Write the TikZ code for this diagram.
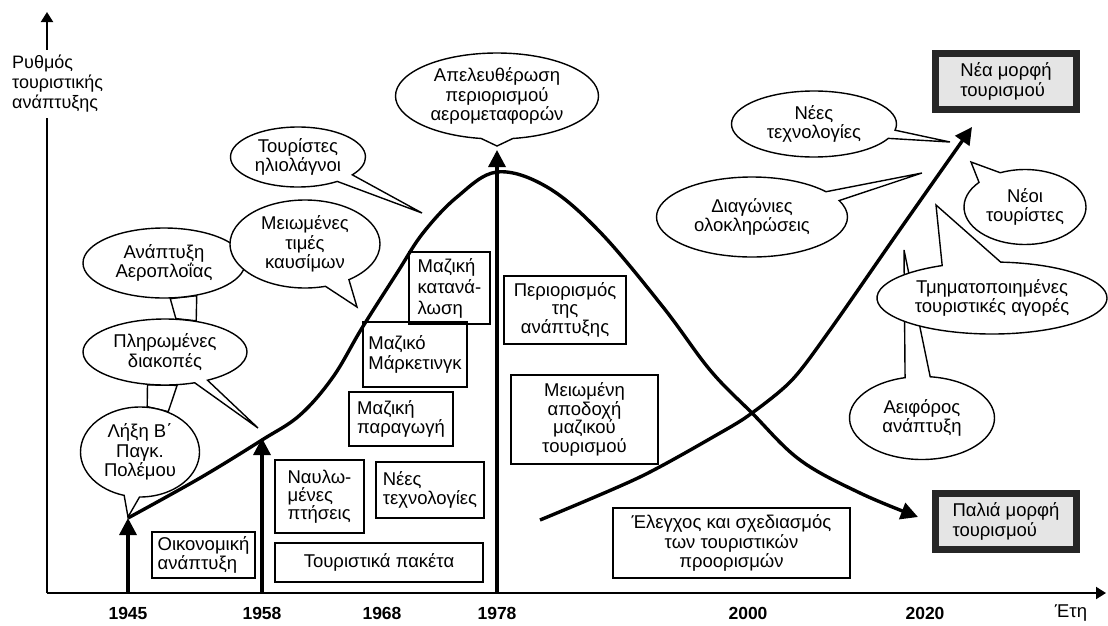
\documentclass[tikz,border=0pt]{standalone}
\usepackage{fontspec}
\setmainfont{Liberation Sans}
\usepackage{tikz}
\usetikzlibrary{
  arrows.meta,
  shapes.geometric,
  shapes.callouts,
  positioning}
\pgfdeclarelayer{back}
\pgfsetlayers{back,main}

\begin{document}
\begin{tikzpicture}[>={Triangle[length=17pt,width=17pt]},x=1pt,y=-1pt,
    every node/.style={font=\fontsize{18.5}{19.5}\selectfont},
    axe/.style={line width=2pt,-{Triangle[length=10pt,width=12pt]}},
    courbe/.style={line width=3.4pt,->},
    cadre/.style={rectangle,draw,line width=1.5pt,inner sep=0pt},
    gros/.style={rectangle,draw=black!85,fill=black!10,line width=7pt,inner sep=0pt,align=left,minimum width=141pt,minimum height=56pt},
    bulle/.style={ellipse callout,draw,fill=white,line width=1.4pt,align=center,inner sep=0pt},
    rond/.style={ellipse,draw,fill=white,line width=1.4pt,align=center,inner sep=0pt},
    an/.style={font=\fontsize{17.5}{19}\selectfont\bfseries}]
        \useasboundingbox (0,0) rectangle (1108,625);
        % Boxes
        \node(eco) at (203.5,555)[cadre,align=left,minimum width=103pt,minimum height=46pt] {Οικονομική\\ανάπτυξη};
        \node(pack) at (379,562.5)[cadre,minimum width=208pt,minimum height=39pt] {Τουριστικά πακέτα};
        \node(charter) at (319.5,496.5)[cadre,align=left,minimum width=89pt,minimum height=73pt,font=\fontsize{18.5}{18}\selectfont] {Ναυλω-\\μένες\\πτήσεις};
        \node(tech) at (430,490)[cadre,align=left,minimum width=108pt,minimum height=56pt] {Νέες\\τεχνολογίες};
        \node(prod) at (401,419)[cadre,align=left,minimum width=104pt,minimum height=54pt] {Μαζική\\παραγωγή};
        \node(mkt) at (415,354.5)[cadre,align=left,minimum width=104pt,minimum height=65pt] {Μαζικό\\Μάρκετινγκ};
        \node(cons) at (449.5,288)[cadre,align=left,minimum width=81pt,minimum height=72pt,font=\fontsize{18.5}{21}\selectfont] {Μαζική\\κατανά-\\λωση};
        \node(limit) at (565,310)[cadre,align=center,minimum width=122pt,minimum height=68pt,font=\fontsize{18.5}{17.5}\selectfont] {Περιορισμός\\της\\ανάπτυξης};
        \node(accept) at (584.5,419.5)[cadre,align=center,minimum width=147pt,minimum height=89pt,font=\fontsize{18.5}{18.7}\selectfont] {Μειωμένη\\αποδοχή\\μαζικού\\τουρισμού};
        \node(plan) at (731.5,543)[cadre,align=center,minimum width=237pt,minimum height=70pt] {Έλεγχος και σχεδιασμός\\των τουριστικών\\προορισμών};
        \node(newform) at (1006,81.5)[gros] {Νέα μορφή\\τουρισμού};
        \node(oldform) at (1006,521.5)[gros] {Παλιά μορφή\\τουρισμού};
        % Bubbles
        \node(aero) at (164,263)[rond,minimum width=162pt,minimum height=70pt] {Ανάπτυξη\\Αεροπλοΐας};
        \node(fuel) at (305,244)[bulle,minimum width=150pt,minimum height=88pt,callout absolute pointer={(357,307)},callout pointer arc=20] {Μειωμένες\\τιμές\\καυσίμων};
        \node(sun) at (298,157)[bulle,minimum width=135pt,minimum height=60pt,callout absolute pointer={(422,213)},callout pointer arc=18] {Τουρίστες\\ηλιολάγνοι};
        \node(libre) at (497,96)[bulle,minimum width=203pt,minimum height=86pt,callout absolute pointer={(497,146)},callout pointer arc=18] {Απελευθέρωση\\περιορισμού\\αερομεταφορών};
        \node(pay) at (165,352)[bulle,minimum width=164pt,minimum height=66pt,callout absolute pointer={(258,428)},callout pointer arc=10] {Πληρωμένες\\διακοπές};
        \node(war) at (140,452)[bulle,minimum width=119pt,minimum height=90pt,callout absolute pointer={(128,517)},callout pointer arc=15] {Λήξη Β΄\\Παγκ.\\Πολέμου};
        \begin{pgfonlayer}{back}
          \draw[line width=1.4pt,fill=white] (aero.-80) -- (pay.72) -- (pay.45) -- (aero.-45) -- cycle;
          \draw[line width=1.4pt,fill=white] (pay.-118) -- (war.81) -- (war.55) -- (pay.-70) -- cycle;
        \end{pgfonlayer}
        \node(ntech) at (814,124)[bulle,minimum width=165pt,minimum height=66pt,callout absolute pointer={(950,142)},callout pointer arc=15] {Νέες\\τεχνολογίες};
        \node(diag) at (752,217)[bulle,minimum width=191pt,minimum height=80pt,callout absolute pointer={(922,173)},callout pointer arc=15] {Διαγώνιες\\ολοκληρώσεις};
        \node(ntour) at (1025,207)[bulle,minimum width=122pt,minimum height=75pt,callout absolute pointer={(971,162)},callout pointer arc=25] {Νέοι\\τουρίστες};
        \node(sust) at (922,418)[bulle,minimum width=145pt,minimum height=83pt,callout absolute pointer={(904,250)},callout pointer arc=20] {Αειφόρος\\ανάπτυξη};
        \node(segm) at (992,298)[bulle,minimum width=230pt,minimum height=72pt,callout absolute pointer={(936,205)},callout pointer arc=30] {Τμηματοποιημένες\\τουριστικές αγορές};
        % Axes
        \coordinate(O) at (47,593);
        \coordinate(ytop) at (47,12);
        \coordinate(xend) at (1106,593);
        \draw[axe] (O) -- (ytop);
        \draw[axe] (O) -- (xend);
        \node(ylab) at (11,84)[anchor=west,fill=white,align=left,inner sep=1pt,minimum height=68pt,font=\fontsize{18}{20}\selectfont] {Ρυθμός\\τουριστικής\\ανάπτυξης};
        \node(t45) at (128,613)[an] {1945};
        \node(t58) at (262,613)[an] {1958};
        \node(t68) at (382,613)[an] {1968};
        \node(t78) at (497,613)[an] {1978};
        \node(t00) at (748,613)[an] {2000};
        \node(t20) at (925,613)[an] {2020};
        \node(tyr) at (1071,613) {Έτη};
        % Links
        \coordinate(a45) at (128,593);
        \coordinate(c45) at (128,518);
        \coordinate(a58) at (262,593);
        \coordinate(c58) at (262,438);
        \coordinate(a78) at (497,593);
        \coordinate(c78) at (497,150);
        \draw[courbe] (a45) -- (c45);
        \draw[courbe] (a58) -- (c58);
        \draw[courbe] (a78) -- (c78);
        \coordinate(vieux) at (918,517);
        \coordinate(debut) at (540,520);
        \coordinate(neuf) at (972,127);
        \draw[courbe] plot[smooth,tension=0.6] coordinates {(c45) (200,478) (262,440) (300,415) (333,377) (362,328) (397,273) (423,233) (457,197) (497,172) (547,187) (600,232) (663,307) (710,370) (752,413) (800,460) (860,493) (vieux)};
        \draw[courbe] plot[smooth,tension=0.5] coordinates {(debut) (640,477) (720,433) (752,413) (792,380) (830,330) (901,228) (neuf)};
\end{tikzpicture}
\end{document}
